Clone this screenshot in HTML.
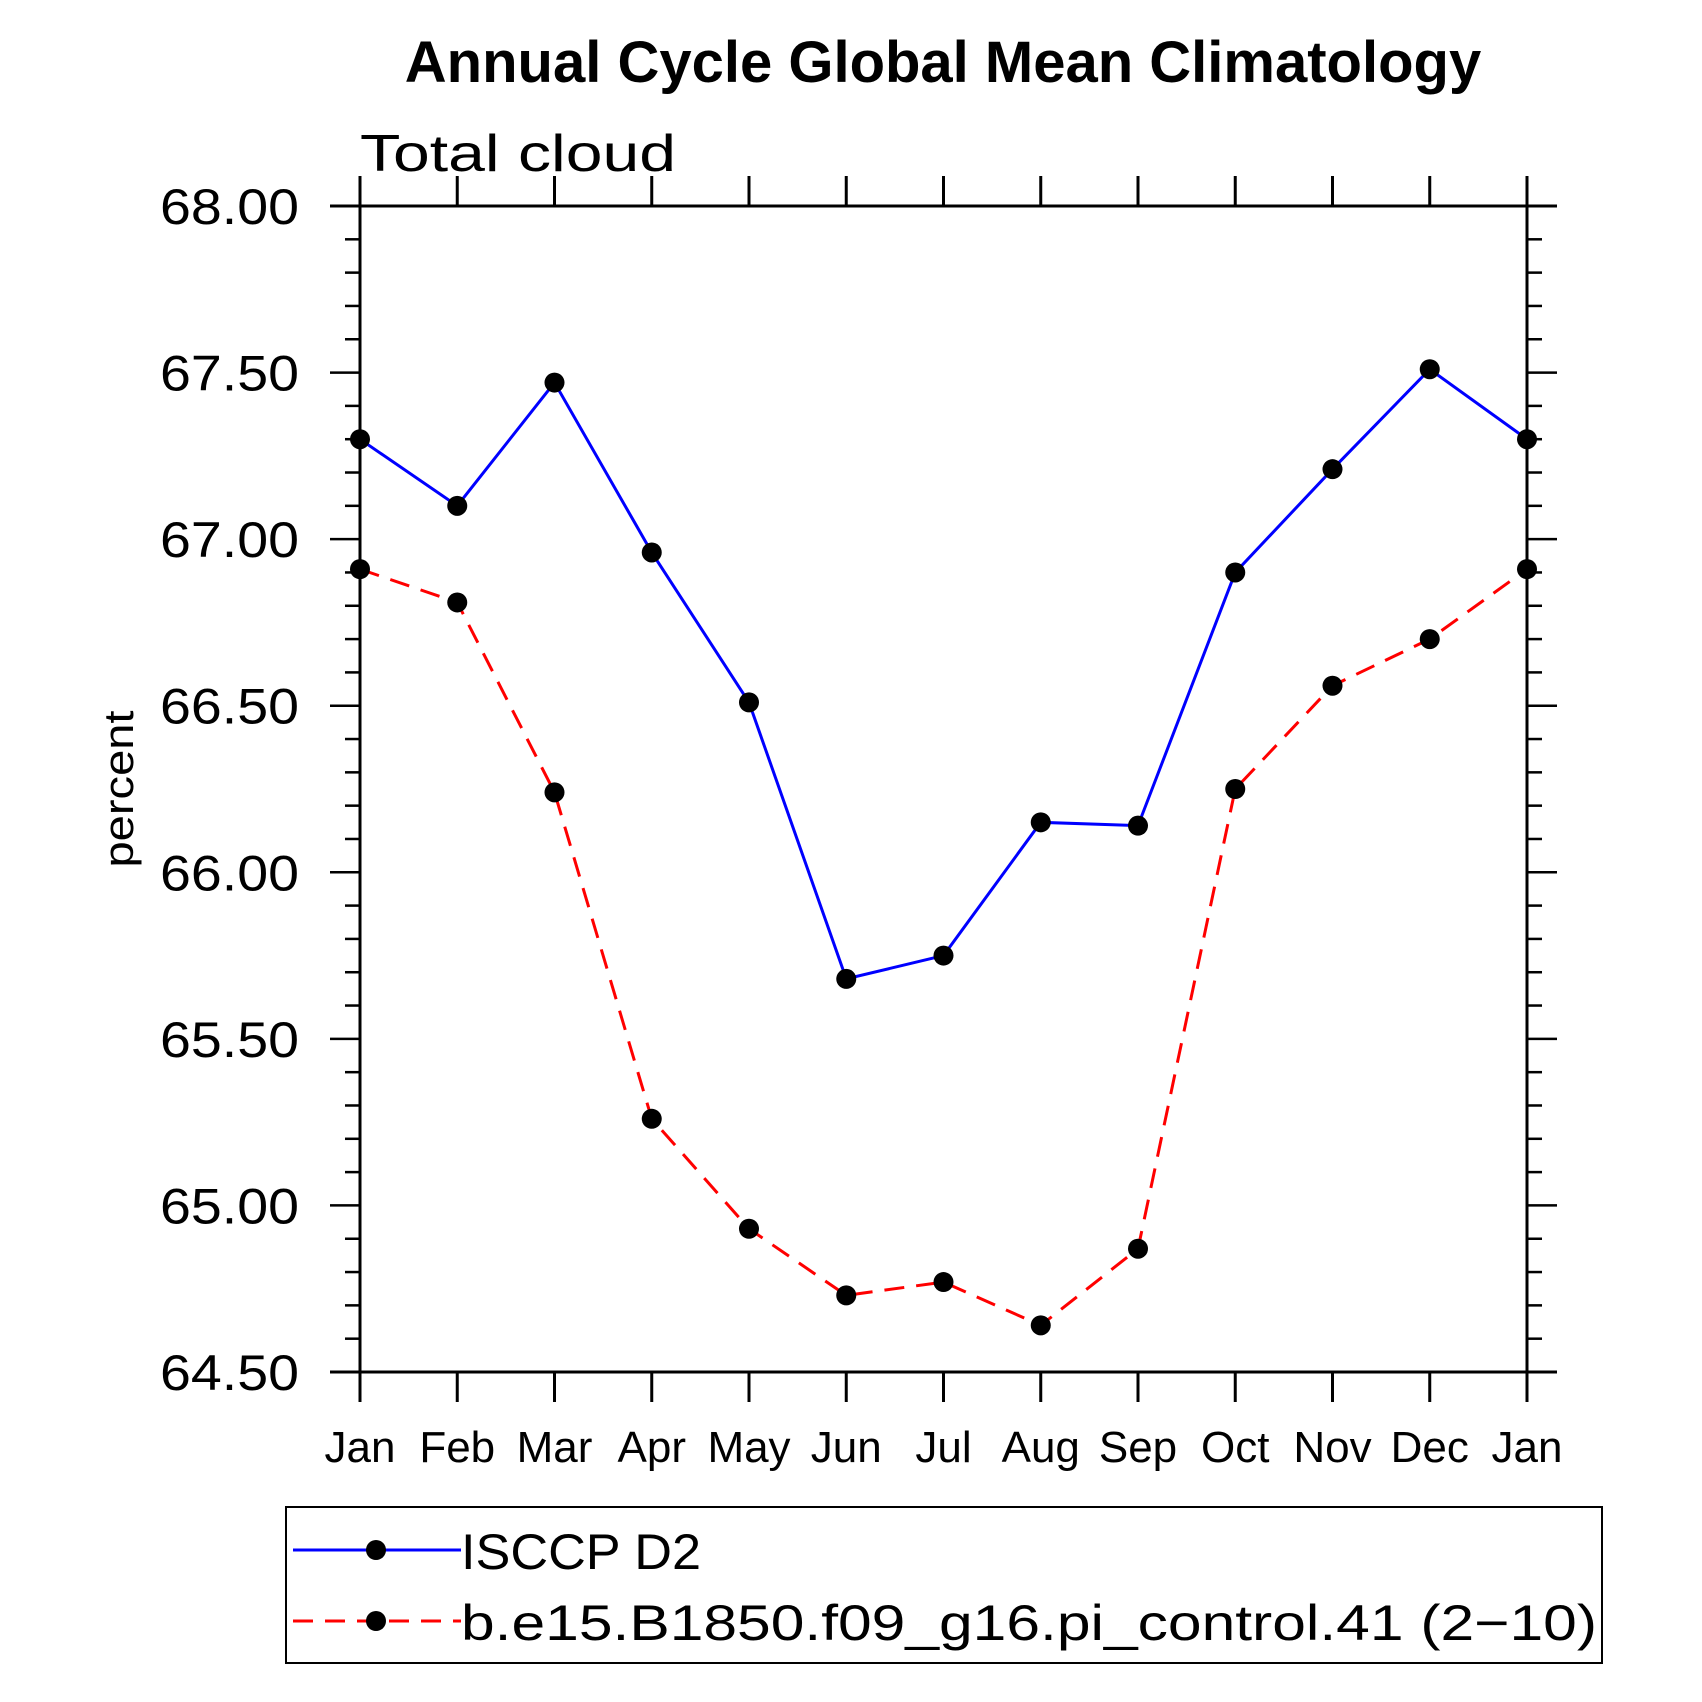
<!DOCTYPE html>
<html><head><meta charset="utf-8"><style>
html,body{margin:0;padding:0;background:#fff;width:1702px;height:1702px;overflow:hidden}
text{font-family:"Liberation Sans",sans-serif}
</style></head><body>
<svg id="chart" width="1702" height="1702" viewBox="0 0 1702 1702" xmlns="http://www.w3.org/2000/svg">
<text x="943" y="82" text-anchor="middle" font-size="58" font-weight="bold">Annual Cycle Global Mean Climatology</text>
<text x="360" y="171" font-size="52" font-weight="300" textLength="316" lengthAdjust="spacingAndGlyphs">Total cloud</text>
<text transform="translate(133,789) rotate(-90)" text-anchor="middle" font-size="42" textLength="157" lengthAdjust="spacingAndGlyphs">percent</text>
<g id="axes"></g>
<g id="series"></g>
<rect x="286" y="1507" width="1316" height="156" fill="none" stroke="#000" stroke-width="2"/>
<g>
<line x1="293" y1="1550" x2="461" y2="1550" stroke="#0000ff" stroke-width="3"/>
<circle cx="376" cy="1550" r="10" fill="#000"/>
<text x="461" y="1569" font-size="50" textLength="240" lengthAdjust="spacingAndGlyphs">ISCCP D2</text>
</g>
<g>
<line x1="293" y1="1621" x2="461" y2="1621" stroke="#ff0000" stroke-width="3" stroke-dasharray="20,12"/>
<circle cx="376" cy="1621" r="10" fill="#000"/>
<text x="461" y="1640" font-size="50" textLength="1136" lengthAdjust="spacingAndGlyphs">b.e15.B1850.f09_g16.pi_control.41 (2−10)</text>
</g>
</svg>
<script>
const months = ["Jan","Feb","Mar","Apr","May","Jun","Jul","Aug","Sep","Oct","Nov","Dec","Jan"];
const isccp = [67.30,67.10,67.47,66.96,66.51,65.68,65.75,66.15,66.14,66.90,67.21,67.51,67.30];
const model = [66.91,66.81,66.24,65.26,64.93,64.73,64.77,64.64,64.87,66.25,66.56,66.70,66.91];
const yTicks = ["64.50","65.00","65.50","66.00","66.50","67.00","67.50","68.00"];
const NS="http://www.w3.org/2000/svg";
const L=360,R=1527,T=206,B=1372,yMin=64.5,yMax=68;
const xs=i=>L+(R-L)*i/(months.length-1);
const ys=v=>B-(B-T)*(v-yMin)/(yMax-yMin);
function mk(tag,attrs,parent){const e=document.createElementNS(NS,tag);for(const k in attrs)e.setAttribute(k,attrs[k]);parent.appendChild(e);return e;}
const ax=document.getElementById('axes');
const frame=mk('rect',{x:L,y:T,width:R-L,height:B-T,fill:'none',stroke:'#000','stroke-width':3},ax);


mk('line',{x1:L-30,y1:T,x2:R+30,y2:T,stroke:'#000','stroke-width':3},ax);
mk('line',{x1:L-30,y1:B,x2:R+30,y2:B,stroke:'#000','stroke-width':3},ax);
mk('line',{x1:L,y1:T-30,x2:L,y2:B+30,stroke:'#000','stroke-width':3},ax);
mk('line',{x1:R,y1:T-30,x2:R,y2:B+30,stroke:'#000','stroke-width':3},ax);
months.forEach((m,i)=>{
 const x=xs(i);
 mk('line',{x1:x,y1:B,x2:x,y2:B+30,stroke:'#000','stroke-width':3},ax);
 mk('line',{x1:x,y1:T,x2:x,y2:T-30,stroke:'#000','stroke-width':3},ax);
 const t=mk('text',{x:x,y:1462,'text-anchor':'middle','font-size':44},ax);
 t.textContent=m;
 
 
});
for(let k=0;k<=35;k++){
 const v=yMin+k*0.1, y=ys(v), major=k%5===0, len=major?30:15;
 mk('line',{x1:L,y1:y,x2:L-len,y2:y,stroke:'#000','stroke-width':2.5},ax);
 mk('line',{x1:R,y1:y,x2:R+len,y2:y,stroke:'#000','stroke-width':2.5},ax);
}
yTicks.forEach(s=>{
 const t=mk('text',{x:160,y:ys(parseFloat(s))+18,'font-size':50,textLength:139,lengthAdjust:'spacingAndGlyphs'},ax);
 t.textContent=s;
 
 
});
const sg=document.getElementById('series');
function draw(vals,color,dash,name){
 const g=mk('g',{},sg);
 
 
 const p=mk('polyline',{points:vals.map((v,i)=>xs(i)+','+ys(v)).join(' '),fill:'none',stroke:color,'stroke-width':3},g);
 if(dash)p.setAttribute('stroke-dasharray',dash);
 vals.forEach((v,i)=>{
  const c=mk('circle',{cx:xs(i),cy:ys(v),r:10,fill:'#000'},g);
  
  
 });
}
draw(isccp,'#0000ff',null,'isccp-series');
draw(model,'#ff0000','20,12','model-series');
</script>
</body></html>
